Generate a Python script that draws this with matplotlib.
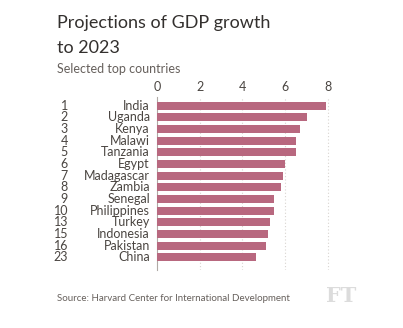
import matplotlib.pyplot as plt
import matplotlib.transforms as mtransforms

countries = ['India', 'Uganda', 'Kenya', 'Malawi', 'Tanzania', 'Egypt', 'Madagascar',
             'Zambia', 'Senegal', 'Philippines', 'Turkey', 'Indonesia', 'Pakistan', 'China']
ranks = ['1', '2', '3', '4', '5', '6', '7', '8', '9', '10', '13', '15', '16', '23']
growth = [7.92, 7.02, 6.72, 6.52, 6.52, 6.02, 5.92, 5.8, 5.5, 5.5, 5.3, 5.22, 5.11, 4.63]
xticks = [0, 2, 4, 6, 8]

plt.rcParams['font.family'] = ['Lato', 'DejaVu Sans']
txt = '#4a4541'

fig = plt.figure(figsize=(4.03, 3.28), dpi=100)
fig.patch.set_facecolor('white')
ax = fig.add_axes([157/403, 1-270/328, 172.8/403, 173/328])

pos = list(range(len(countries)))
ax.barh(pos, growth, height=0.68, color='#b8687f', zorder=3)
ax.set_xlim(0, 8.1)
ax.set_ylim(14.09, -0.75)
ax.set_xticks(xticks)
ax.xaxis.tick_top()
ax.tick_params(axis='x', length=0, labelsize=9, colors=txt, pad=3)
ax.set_yticks([])
for x in xticks[1:]:
    ax.axvline(x, color='#d8d4d0', lw=0.8, ls=(0, (1, 2)), zorder=1)
for s in ['top', 'right', 'bottom']:
    ax.spines[s].set_visible(False)
ax.spines['left'].set_color('#b0aaa5')
ax.spines['left'].set_linewidth(0.8)

# country names next to the axis, ranks at a fixed figure x
trans = mtransforms.blended_transform_factory(fig.transFigure, ax.transData)
for i, (r, c) in enumerate(zip(ranks, countries)):
    ax.text(-0.33, i, c, ha='right', va='center', fontsize=9, color=txt)
    fig.text(68/403, i, r, transform=trans, ha='right', va='center', fontsize=9, color=txt)

fig.text(57/403, 1-28/328, 'Projections of GDP growth', fontsize=13, color='#33302e')
fig.text(57/403, 1-53/328, 'to 2023', fontsize=13, color='#33302e')
fig.text(57/403, 1-73/328, 'Selected top countries', fontsize=9, color='#66605c')
fig.text(57/403, 1-301/328, 'Source: Harvard Center for International Development',
         fontsize=7, color='#66605c')
fig.text(341/403, 1-302/328, 'FT', fontsize=15, family='DejaVu Serif', weight='bold',
         color='#dcdcdc', ha='center')

fig.savefig('out.png', dpi=100)
